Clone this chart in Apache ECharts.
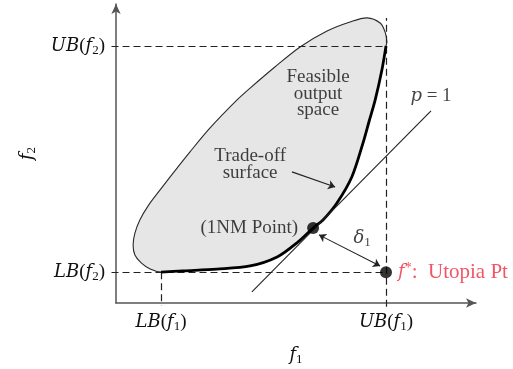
<!DOCTYPE html>
<html>
<head>
<meta charset="utf-8">
<script src="https://cdn.jsdelivr.net/npm/echarts@6/dist/echarts.min.js"></script>
<style>html,body{margin:0;padding:0;background:#fff}#c{width:513px;height:369px}</style>
</head>
<body>
<div id="c"></div>
<script>
// ---- data (f1, f2 in abstract objective units) ----
const f1Ticks = [1, 6];
const f1TickNames = ['LB', 'UB'];
const f2Ticks = [1.2, 10];
const f2TickNames = ['LB', 'UB'];

// outer (non-Pareto) boundary of the feasible set, from LB corner round to UB(f2)
const boundaryF1 = [1.00, 0.76, 0.56, 0.42, 0.38, 0.42, 0.53, 0.71, 0.98, 1.29, 1.64, 2.09, 2.69, 2.98, 3.53, 4.09, 4.69, 5.20, 5.58, 5.87, 5.98, 6.02, 6.00];
const boundaryF2 = [1.20, 1.32, 1.56, 1.87, 2.26, 2.72, 3.23, 3.77, 4.40, 5.10, 5.87, 6.81, 7.90, 8.36, 9.18, 9.96, 10.58, 10.93, 11.09, 10.89, 10.54, 10.15, 10.00];

// trade-off (Pareto) surface, from UB(f2) down to LB(f2)
const tradeoffF1 = [6.00, 5.91, 5.76, 5.62, 5.49, 5.24, 4.91, 4.60, 4.38, 4.04, 3.58, 2.98, 2.24, 1.49, 1.00];
const tradeoffF2 = [10.00, 9.07, 7.90, 7.04, 6.23, 4.90, 3.89, 3.23, 2.92, 2.37, 1.79, 1.44, 1.32, 1.25, 1.20];

const pLineF1 = [3.02, 7.00];
const pLineF2 = [0.43, 7.47];

const nmPoint = [4.38, 2.92];
const utopia = [6.00, 1.20];

const deltaArrowF1 = [4.51, 5.87];
const deltaArrowF2 = [2.65, 1.44];
const tradeArrowF1 = [3.91, 4.87];
const tradeArrowF2 = [5.10, 4.51];

const FONT = 'Liberation Serif';
const MATH = 'DejaVu Serif';
const TXT = '#111';
const RED = '#ef2b3f';

function rich(color, size) {
  size = size || 19;
  return {
    r: {fontFamily: FONT, fontSize: size, color: color, lineHeight: 22},
    i: {fontFamily: MATH, fontStyle: 'italic', fontSize: 18, color: color, lineHeight: 22},
    s: {fontFamily: FONT, fontSize: 13, color: color, lineHeight: 12, verticalAlign: 'bottom'},
    p: {fontFamily: FONT, fontSize: 14, color: color, lineHeight: 12, verticalAlign: 'top'}
  };
}

const zip = (a, b) => a.map((v, k) => [v, b[k]]);
const boundary = zip(boundaryF1, boundaryF2);
const tradeoff = zip(tradeoffF1, tradeoffF2);
const fillPts = boundary.concat(tradeoff.slice(1, tradeoff.length - 1));

const chart = echarts.init(document.getElementById('c'), null, {renderer: 'canvas'});

const axisLineStyle = {color: '#555', width: 1.5};

chart.setOption({
  animation: false,
  backgroundColor: '#fff',
  grid: {left: 116, top: 4, width: 360, height: 299, outerBoundsMode: 'none', containLabel: false},
  xAxis: {
    type: 'value', min: 0, max: 8,
    axisLine: {show: true, lineStyle: axisLineStyle, symbol: ['none', 'arrow'], symbolSize: [7, 10]},
    axisTick: {show: false}, splitLine: {show: false},
    axisLabel: {
      customValues: f1Ticks, margin: 8,
      formatter: v => '{i|' + f1TickNames[f1Ticks.indexOf(v)] + '}{r|(}{i|f}{s|1}{r|)}',
      rich: rich(TXT)
    },
    name: '{i|f}{s|1}', nameLocation: 'middle', nameGap: 41,
    nameTextStyle: {rich: rich(TXT)}
  },
  yAxis: {
    type: 'value', min: 0, max: 11.63,
    axisLine: {show: true, lineStyle: axisLineStyle, symbol: ['none', 'arrow'], symbolSize: [7, 10]},
    axisTick: {show: false}, splitLine: {show: false},
    axisLabel: {
      customValues: f2Ticks, margin: 11,
      formatter: v => '{i|' + f2TickNames[f2Ticks.indexOf(v)] + '}{r|(}{i|f}{s|2}{r|)}',
      rich: rich(TXT)
    },
    name: '{i|f}{s|2}', nameLocation: 'middle', nameGap: 78,
    nameTextStyle: {rich: rich(TXT)}
  },
  series: [
    {
      type: 'custom', coordinateSystem: 'cartesian2d', clip: false, silent: true, z: 1,
      data: [fillPts[0]],
      renderItem: function (params, api) {
        const pts = fillPts.map(p => api.coord(p));
        return {type: 'polygon', shape: {points: pts, smooth: 0.3},
          style: {fill: '#e6e6e6', stroke: '#2a2a2a', lineWidth: 1.1}};
      }
    },
    {
      type: 'custom', coordinateSystem: 'cartesian2d', clip: false, silent: true, z: 3,
      data: [tradeoff[0]],
      renderItem: function (params, api) {
        const pts = tradeoff.map(p => api.coord(p));
        return {type: 'polyline', shape: {points: pts, smooth: 0.3},
          style: {fill: null, stroke: '#000', lineWidth: 2.8}};
      }
    },
    {
      type: 'lines', coordinateSystem: 'cartesian2d', clip: false, z: 2, silent: true,
      lineStyle: {color: '#222', width: 1.2, type: [7, 4], opacity: 1},
      symbol: 'none',
      data: [
        {coords: [[-0.1, f2Ticks[1]], [f1Ticks[1], f2Ticks[1]]]},
        {coords: [[-0.1, f2Ticks[0]], [f1Ticks[1], f2Ticks[0]]]},
        {coords: [[f1Ticks[1], -0.15], [f1Ticks[1], 11.09]]},
        {coords: [[f1Ticks[0], f2Ticks[0]], [f1Ticks[0], -0.1]]}
      ]
    },
    {
      type: 'lines', coordinateSystem: 'cartesian2d', clip: false, z: 4, silent: true,
      lineStyle: {color: '#222', width: 1.1, opacity: 1},
      symbol: 'none',
      data: [{coords: zip(pLineF1, pLineF2)}]
    },
    {
      type: 'lines', coordinateSystem: 'cartesian2d', clip: false, z: 5, silent: true,
      lineStyle: {color: '#222', width: 1.1, opacity: 1},
      symbol: ['arrow', 'arrow'], symbolSize: [7, 7],
      data: [{coords: zip(deltaArrowF1, deltaArrowF2)}]
    },
    {
      type: 'lines', coordinateSystem: 'cartesian2d', clip: false, z: 5, silent: true,
      lineStyle: {color: '#222', width: 1.1, opacity: 1},
      symbol: ['none', 'arrow'], symbolSize: [7, 7],
      data: [{coords: zip(tradeArrowF1, tradeArrowF2)}]
    },
    {
      type: 'scatter', z: 6, silent: true, symbolSize: 12,
      itemStyle: {color: '#000'},
      data: [
        {value: nmPoint, label: {show: true, position: 'left', distance: 9,
          formatter: '{r|(1NM Point)}', rich: rich(TXT)}},
        {value: utopia, label: {show: true, position: 'right', distance: 6,
          formatter: '{i|f}{p|*}{r|:  Utopia Pt}', rich: rich(RED, 21)}}
      ]
    },
    {
      type: 'scatter', z: 7, silent: true, symbolSize: 0,
      label: {show: true, position: 'inside'},
      data: [
        {value: [4.49, 8.13], label: {formatter: 'Feasible\noutput\nspace', fontFamily: FONT, fontSize: 19, lineHeight: 16.5, color: TXT}},
        {value: [2.98, 5.37], label: {formatter: 'Trade-off\nsurface', fontFamily: FONT, fontSize: 19, lineHeight: 17, color: TXT}},
        {value: [5.47, 2.53], label: {formatter: '{i|δ}{s|1}', rich: rich(TXT)}},
        {value: [7.00, 8.05], label: {formatter: '{i|p}{r| = 1}', rich: rich(TXT)}}
      ]
    }
  ]
});
</script>
</body>
</html>
